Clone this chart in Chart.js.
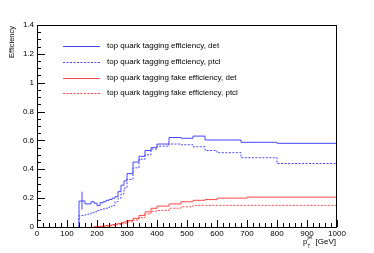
<!DOCTYPE html>
<html>
<head>
<meta charset="utf-8">
<script src="https://cdn.jsdelivr.net/npm/chart.js@4.4.1/dist/chart.umd.min.js"></script>
<style>
  html, body { margin: 0; padding: 0; background: #fff; }
  canvas { display: block; }
</style>
</head>
<body>
<canvas id="c" width="374" height="253"></canvas>
<script>
// bin edges (GeV) shared by all four histograms
const edges = [140,150,160,170,180,190,200,210,220,230,240,250,260,270,280,290,300,
               320,340,360,380,400,440,480,520,560,600,680,700,800,1000];

// one value per bin, null = nothing drawn
const effDet  = [0.18,0.18,0.16,0.16,0.175,0.165,0.148,0.168,0.175,0.185,0.19,0.2,0.21,0.245,0.29,0.32,
                 0.37,0.45,0.49,0.53,0.55,0.575,0.62,0.615,0.63,0.603,0.603,0.587,0.587,0.58];
const effPtcl = [0.078,0.08,0.085,0.09,0.1,0.105,0.115,0.12,0.125,0.13,0.14,0.15,0.175,0.2,0.23,0.27,
                 0.33,0.41,0.47,0.5,0.54,0.56,0.575,0.57,0.556,0.53,0.515,0.48,0.48,0.44];
const fakeDet  = [null,null,null,null,null,0.002,0.003,0.005,0.007,0.01,0.013,0.016,0.02,0.025,0.03,0.035,
                  0.045,0.06,0.08,0.105,0.13,0.145,0.16,0.175,0.185,0.19,0.2,0.2,0.207,0.207];
const fakePtcl = [null,null,null,null,null,0.001,0.002,0.003,0.005,0.007,0.009,0.012,0.015,0.018,0.022,0.026,
                  0.035,0.048,0.065,0.09,0.11,0.115,0.13,0.14,0.15,0.15,0.15,0.15,0.15,0.15];

// error bar on the first efficiency bin
const errX = [150];
const errLow = [0.12];
const errHigh = [0.245];

const labels = [
  "top quark tagging efficiency, det",
  "top quark tagging efficiency, ptcl",
  "top quark tagging fake efficiency, det",
  "top quark tagging fake efficiency, ptcl"
];

const xTicks = { min: 0, max: 1000, major: 100, minor: 20 };
const yTicks = { min: 0, max: 1.4, major: 0.2, minor: 0.05 };

const BLUE = "#4646ff";
const RED = "#ff4646";
const FONT = "Liberation Sans, Arial, sans-serif";

// histogram -> stepped polyline starting from zero
function histPoints(vals) {
  const pts = [];
  let last = null;
  vals.forEach((v, i) => {
    if (v === null) return;
    if (last === null) pts.push({ x: edges[i], y: 0 });
    pts.push({ x: edges[i], y: v });
    last = v;
  });
  pts.push({ x: edges[edges.length - 1], y: last });
  return pts;
}

function histSet(label, vals, color, dash) {
  return {
    label: label,
    data: histPoints(vals),
    borderColor: color,
    borderWidth: 1,
    borderDash: dash,
    stepped: "before",
    pointRadius: 0,
    fill: false
  };
}

const errData = [];
errX.forEach((x, i) => {
  errData.push({ x: x, y: errLow[i] });
  errData.push({ x: x, y: errHigh[i] });
});

// frame, inward ROOT-style ticks, legend and axis titles
const rootStyle = {
  id: "rootStyle",
  afterDraw(chart) {
    const ctx = chart.ctx;
    const a = chart.chartArea;
    const xs = chart.scales.x, ys = chart.scales.y;
    ctx.save();
    ctx.strokeStyle = "#000";
    ctx.lineWidth = 1;
    ctx.strokeRect(Math.round(a.left) + 0.5, Math.round(a.top) + 0.5,
                   Math.round(a.right - a.left) - 1, Math.round(a.bottom - a.top));

    ctx.beginPath();
    for (let v = yTicks.min; v <= yTicks.max + 1e-9; v += yTicks.minor) {
      const isMajor = Math.abs(v / yTicks.major - Math.round(v / yTicks.major)) < 1e-6;
      const py = Math.round(ys.getPixelForValue(v)) + 0.5;
      ctx.moveTo(a.left, py);
      ctx.lineTo(a.left + (isMajor ? 8 : 4), py);
    }
    for (let v = xTicks.min; v <= xTicks.max + 1e-9; v += xTicks.minor) {
      const isMajor = Math.abs(v / xTicks.major - Math.round(v / xTicks.major)) < 1e-6;
      const px = Math.round(xs.getPixelForValue(v)) + 0.5;
      ctx.moveTo(px, a.bottom);
      ctx.lineTo(px, a.bottom - (isMajor ? 7 : 4));
    }
    ctx.stroke();

    // legend
    const rows = [46, 62, 78, 93];
    chart.data.datasets.slice(0, 4).forEach((ds, i) => {
      ctx.beginPath();
      ctx.strokeStyle = ds.borderColor;
      ctx.setLineDash(ds.borderDash || []);
      ctx.moveTo(63, rows[i] + 0.5);
      ctx.lineTo(100, rows[i] + 0.5);
      ctx.stroke();
      ctx.setLineDash([]);
      ctx.fillStyle = "#000";
      ctx.font = "8px " + FONT;
      ctx.textBaseline = "middle";
      ctx.textAlign = "left";
      ctx.fillText(ds.label, 107, rows[i]);
    });

    // y title
    ctx.save();
    ctx.translate(12, 26);
    ctx.rotate(-Math.PI / 2);
    ctx.font = "7.5px " + FONT;
    ctx.textAlign = "right";
    ctx.textBaseline = "middle";
    ctx.fillText("Efficiency", 0, 0);
    ctx.restore();

    // x title: p_T^jet [GeV]
    ctx.fillStyle = "#000";
    ctx.textBaseline = "alphabetic";
    ctx.textAlign = "right";
    ctx.font = "8px " + FONT;
    ctx.fillText("[GeV]", 336, 244);
    ctx.textAlign = "left";
    ctx.fillText("p", 303, 244);
    ctx.font = "4.5px " + FONT;
    ctx.fillText("T", 307.5, 247.5);
    ctx.fillText("jet", 307.5, 239);
    ctx.restore();
  }
};

new Chart(document.getElementById("c"), {
  type: "line",
  data: {
    datasets: [
      histSet(labels[0], effDet, BLUE, []),
      histSet(labels[1], effPtcl, BLUE, [2, 1.5]),
      histSet(labels[2], fakeDet, RED, []),
      histSet(labels[3], fakePtcl, RED, [2, 1.5]),
      {
        label: "err",
        data: errData,
        borderColor: BLUE,
        borderWidth: 1,
        pointRadius: 0,
        fill: false
      }
    ]
  },
  options: {
    responsive: false,
    animation: false,
    layout: { padding: { top: 25, right: 37, left: 0, bottom: 0 } },
    plugins: { legend: { display: false }, tooltip: { enabled: false } },
    scales: {
      x: {
        type: "linear",
        min: xTicks.min,
        max: xTicks.max,
        grid: { display: false, drawTicks: false },
        border: { display: false },
        ticks: {
          stepSize: xTicks.major,
          color: "#000",
          font: { family: FONT, size: 8 },
          padding: 2,
          maxRotation: 0,
          autoSkip: false,
          callback: v => String(v)
        },
        afterFit(s) { s.height = 26; }
      },
      y: {
        min: yTicks.min,
        max: yTicks.max,
        grid: { display: false, drawTicks: false },
        border: { display: false },
        ticks: {
          stepSize: yTicks.major,
          color: "#000",
          font: { family: FONT, size: 8 },
          padding: 3,
          callback: v => String(Math.round(v * 10) / 10)
        },
        afterFit(s) { s.width = 37; }
      }
    }
  },
  plugins: [rootStyle]
});
</script>
</body>
</html>
